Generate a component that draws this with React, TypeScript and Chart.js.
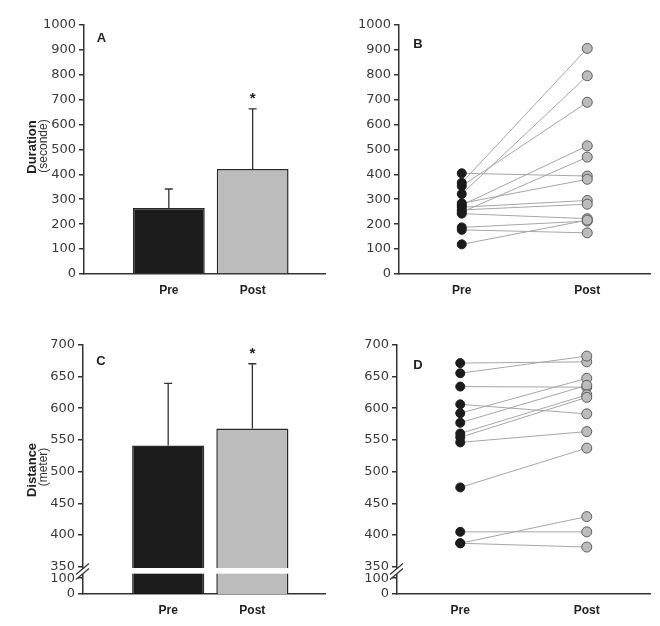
import { useEffect, useRef } from 'react';
import { Chart, registerables } from 'chart.js';

Chart.register(...registerables);

// ---------- data ----------
const GROUPS = ['Pre', 'Post'];
const SIGNIFICANCE = ['', '*'];
const DURATION_MEAN = [265, 421];
const DURATION_SD = [76, 241];
const DISTANCE_MEAN = [541, 568];
const DISTANCE_SD = [98, 102];
const DURATION_PRE = [404, 366, 353, 321, 284, 276, 268, 257, 248, 242, 187, 177, 119];
const DURATION_POST = [393, 905, 689, 795, 380, 514, 295, 280, 469, 222, 212, 165, 216];
const DISTANCE_PRE = [671, 655, 634, 606, 592, 577, 560, 554, 546, 475, 405, 387, 387];
const DISTANCE_POST = [673, 682, 633, 591, 647, 636, 621, 617, 563, 537, 405, 429, 381];
const DURATION_TICKS = [0, 100, 200, 300, 400, 500, 600, 700, 800, 900, 1000];
const DISTANCE_TICKS = [0, 100, 350, 400, 450, 500, 550, 600, 650, 700];

// ---------- style / layout ----------
const W = 660;
const H = 626;
const AXIS = '#333333';
const PRE_FILL = '#1b1b1b';
const POST_FILL = '#bcbcbc';
const TICK_FONT = { family: 'DejaVu Sans', size: 13 };
const XLAB_FONT = { family: 'Liberation Sans', size: 12, weight: 'bold' as const };

// broken axis: 0..100 compressed below 350
const BREAK = 350;
const LOW_BASE = 307;
const LOW_RATIO = 0.25;
const toPos = (v: number) => (v >= BREAK ? v : LOW_BASE + v * LOW_RATIO);
const fromPos = (p: number) => (p >= BREAK ? p : Math.round((p - LOW_BASE) / LOW_RATIO));
const ident = (v: number) => v;

function yScale(min: number, max: number, ticks: number[], to: (v: number) => number, from: (v: number) => number) {
  return {
    min,
    max,
    afterBuildTicks: (s: any) => {
      s.ticks = ticks.map((v) => ({ value: to(v) }));
    },
    afterFit: (s: any) => {
      s.width = 60;
    },
    ticks: { font: TICK_FONT, color: '#3a3a3a', padding: 3, autoSkip: false, callback: (v: any) => String(from(v)) },
    grid: { drawOnChartArea: false, drawTicks: true, tickLength: 5, color: AXIS, lineWidth: 1.5 },
    border: { color: AXIS, width: 1.5 },
  };
}

function annotate(items: { text: string; x: number; y: number; font: string; rotate?: boolean; color?: string }[]) {
  return {
    id: 'annotate',
    afterDraw(chart: any) {
      const c = chart.ctx;
      items.forEach((it) => {
        c.save();
        c.translate(it.x, it.y);
        if (it.rotate) c.rotate(-Math.PI / 2);
        c.font = it.font;
        c.fillStyle = it.color || '#222';
        c.textAlign = 'center';
        c.textBaseline = 'middle';
        c.fillText(it.text, 0, 0);
        c.restore();
      });
    },
  };
}

function errorBars(sd: number[], marks: string[], broken: boolean) {
  return {
    id: 'errorBars',
    afterDatasetsDraw(chart: any) {
      const meta = chart.getDatasetMeta(0);
      const ys = chart.scales.y;
      const c = chart.ctx;
      const ds = chart.data.datasets[0].data;
      c.save();
      if (broken) {
        const g1 = ys.getPixelForValue(348);
        const g2 = ys.getPixelForValue(339);
        c.fillStyle = '#ffffff';
        meta.data.forEach((bar: any) => {
          c.fillRect(bar.x - bar.width / 2 - 2, g1, bar.width + 4, g2 - g1);
        });
      }
      c.strokeStyle = AXIS;
      c.lineWidth = 1.3;
      meta.data.forEach((bar: any, i: number) => {
        const top = ys.getPixelForValue(ds[i].y + sd[i]);
        c.beginPath();
        c.moveTo(bar.x, bar.y);
        c.lineTo(bar.x, top);
        c.moveTo(bar.x - 4, top);
        c.lineTo(bar.x + 4, top);
        c.stroke();
        if (marks[i]) {
          c.fillStyle = '#222';
          c.font = 'bold 15px "Liberation Sans"';
          c.textAlign = 'center';
          c.textBaseline = 'middle';
          c.fillText(marks[i], bar.x, top - 10);
        }
      });
      c.restore();
    },
  };
}

const axisBreak = {
  id: 'axisBreak',
  afterDraw(chart: any) {
    const ys = chart.scales.y;
    const ax = chart.chartArea.left;
    const cy = ys.getPixelForValue(341);
    const c = chart.ctx;
    c.save();
    c.fillStyle = '#ffffff';
    c.beginPath();
    c.moveTo(ax - 7, cy + 2);
    c.lineTo(ax + 6, cy - 9);
    c.lineTo(ax + 6, cy - 4);
    c.lineTo(ax - 7, cy + 7);
    c.closePath();
    c.fill();
    c.strokeStyle = AXIS;
    c.lineWidth = 1.2;
    c.beginPath();
    c.moveTo(ax - 7, cy + 2);
    c.lineTo(ax + 6, cy - 9);
    c.moveTo(ax - 7, cy + 7);
    c.lineTo(ax + 6, cy - 4);
    c.stroke();
    c.restore();
  },
};

function barConfig(mean: number[], sd: number[], pad: any, yopts: any, extraPlugins: any[], broken: boolean) {
  return {
    type: 'bar',
    data: {
      datasets: [
        {
          data: GROUPS.map((_, i) => ({ x: i + 1, y: mean[i] })),
          backgroundColor: [PRE_FILL, POST_FILL],
          borderColor: '#2a2a2a',
          borderWidth: 1.5,
          barPercentage: 1,
          categoryPercentage: 0.857,
        },
      ],
    },
    options: {
      responsive: false,
      animation: false,
      layout: { padding: pad },
      plugins: { legend: { display: false }, tooltip: { enabled: false } },
      scales: {
        x: {
          type: 'linear',
          offset: false,
          min: -0.012,
          max: 2.863,
          afterBuildTicks: (s: any) => {
            s.ticks = GROUPS.map((_, i) => ({ value: i + 1 }));
          },
          afterFit: (s: any) => {
            s.height = 30;
          },
          ticks: { font: XLAB_FONT, color: '#222', padding: 9, autoSkip: false, callback: (v: any) => GROUPS[v - 1] ?? '' },
          grid: { display: false, drawTicks: false, offset: false },
          border: { color: AXIS, width: 1.5 },
        },
        y: yopts,
      },
    },
    plugins: [errorBars(sd, SIGNIFICANCE, broken), ...extraPlugins],
  };
}

function pairConfig(pre: number[], post: number[], pad: any, yopts: any, extraPlugins: any[]) {
  const lines = pre.map((p, i) => ({
    data: [p, post[i]],
    borderColor: '#a6a6a6',
    borderWidth: 1,
    pointRadius: 0,
    fill: false,
  }));
  return {
    type: 'line',
    data: {
      labels: GROUPS,
      datasets: [
        {
          data: post.map((v) => ({ x: GROUPS[1], y: v })),
          showLine: false,
          pointRadius: 5,
          pointBackgroundColor: POST_FILL,
          pointBorderColor: '#5c5c5c',
          pointBorderWidth: 1,
        },
        {
          data: pre.map((v) => ({ x: GROUPS[0], y: v })),
          showLine: false,
          pointRadius: 4.5,
          pointBackgroundColor: PRE_FILL,
          pointBorderColor: PRE_FILL,
          pointBorderWidth: 1,
        },
        ...lines,
      ],
    },
    options: {
      responsive: false,
      animation: false,
      layout: { padding: pad },
      plugins: { legend: { display: false }, tooltip: { enabled: false } },
      scales: {
        x: {
          type: 'category',
          offset: true,
          afterFit: (s: any) => {
            s.height = 30;
          },
          ticks: { font: XLAB_FONT, color: '#222', padding: 9 },
          grid: { display: false, drawTicks: false },
          border: { color: AXIS, width: 1.5 },
        },
        y: yopts,
      },
    },
    plugins: extraPlugins,
  };
}

const TITLE_BOLD = 'bold 13px "Liberation Sans"';
const TITLE_REG = '12px "Liberation Sans"';
const LETTER = 'bold 13px "Liberation Sans"';

export default function App() {
  const a = useRef<HTMLCanvasElement>(null);
  const b = useRef<HTMLCanvasElement>(null);
  const c = useRef<HTMLCanvasElement>(null);
  const d = useRef<HTMLCanvasElement>(null);

  useEffect(() => {
    const charts: Chart[] = [];
    charts.push(
      new Chart(
        a.current!,
        barConfig(
          DURATION_MEAN,
          DURATION_SD,
          { left: 24, top: 24.7, right: 335, bottom: 322 },
          yScale(0, 1000, DURATION_TICKS, ident, ident),
          [
            annotate([
              { text: 'Duration', x: 32, y: 147, font: TITLE_BOLD, rotate: true },
              { text: '(seconde)', x: 44, y: 146, font: TITLE_REG, rotate: true, color: '#333' },
              { text: 'A', x: 101.5, y: 38.5, font: LETTER },
            ]),
          ],
          false
        ) as any
      )
    );
    charts.push(
      new Chart(
        b.current!,
        pairConfig(
          DURATION_PRE,
          DURATION_POST,
          { left: 339, top: 24.7, right: 10, bottom: 322 },
          yScale(0, 1000, DURATION_TICKS, ident, ident),
          [annotate([{ text: 'B', x: 418, y: 44, font: LETTER }])]
        ) as any
      )
    );
    charts.push(
      new Chart(
        c.current!,
        barConfig(
          DISTANCE_MEAN,
          DISTANCE_SD,
          { left: 23, top: 344.7, right: 335, bottom: 2 },
          yScale(LOW_BASE, 700, DISTANCE_TICKS, toPos, fromPos),
          [
            axisBreak,
            annotate([
              { text: 'Distance', x: 32, y: 470, font: TITLE_BOLD, rotate: true },
              { text: '(meter)', x: 44, y: 467, font: TITLE_REG, rotate: true, color: '#333' },
              { text: 'C', x: 101, y: 361, font: LETTER },
            ]),
          ],
          true
        ) as any
      )
    );
    charts.push(
      new Chart(
        d.current!,
        pairConfig(
          DISTANCE_PRE,
          DISTANCE_POST,
          { left: 337, top: 344.7, right: 10, bottom: 2 },
          yScale(LOW_BASE, 700, DISTANCE_TICKS, toPos, fromPos),
          [axisBreak, annotate([{ text: 'D', x: 418, y: 365, font: LETTER }])]
        ) as any
      )
    );
    return () => charts.forEach((ch) => ch.destroy());
  }, []);

  const cs: any = { position: 'absolute', left: 0, top: 0, width: W, height: H };
  return (
    <div style={{ position: 'absolute', left: 0, top: 0, width: W, height: H, background: '#ffffff' }}>
      <canvas ref={a} width={W} height={H} style={cs} />
      <canvas ref={b} width={W} height={H} style={cs} />
      <canvas ref={c} width={W} height={H} style={cs} />
      <canvas ref={d} width={W} height={H} style={cs} />
    </div>
  );
}
